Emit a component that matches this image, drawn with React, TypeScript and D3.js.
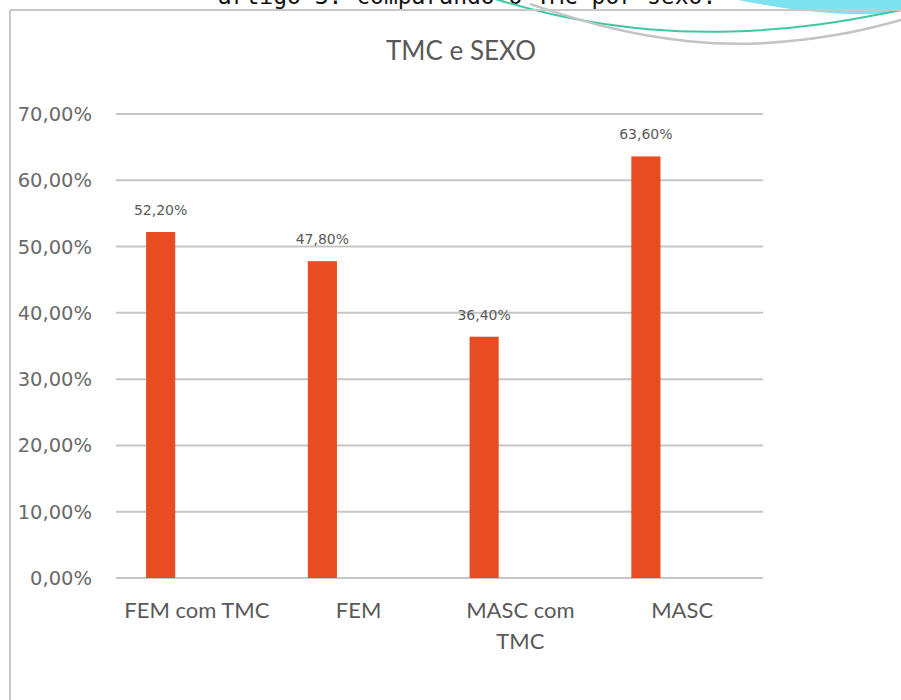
import React from "react";
import * as d3 from "d3";

const categories: string[][] = [["FEM com TMC"], ["FEM"], ["MASC com", "TMC"], ["MASC"]];
const values: number[] = [0.522, 0.478, 0.364, 0.636];
const yTicks: number[] = [0, 0.1, 0.2, 0.3, 0.4, 0.5, 0.6, 0.7];
const title = "TMC e SEXO";
const headerText = "artigo 3: comparando o TMC por sexo.";

const W = 901;
const H = 700;

const locale = d3.formatLocale({ decimal: ",", thousands: ".", grouping: [3], currency: ["R$", ""] });
const fmt = locale.format(".2%");

// decorative swoosh control points (top right)
const tealPts: [number, number][] = [[485, -4], [560, 18], [650, 31], [730, 33], [820, 26], [901, 10]];
const grayPts: [number, number][] = [[530, 4], [610, 30], [690, 43], [760, 45], [840, 36], [901, 20]];

export default function App() {
  const keys = categories.map((c) => c.join(" "));
  const x = d3.scaleBand<string>().domain(keys).range([116, 763]).paddingInner(0).paddingOuter(0);
  const y = d3.scaleLinear().domain([0, 0.7]).range([578, 114]);
  const bw = x.bandwidth();
  const barW = bw * 0.18;
  const barOff = bw * 0.186;
  const line = d3.line().curve(d3.curveBasis);
  const cyanArea =
    "M738,0 C770,6 800,12 850,14 C875,15 890,13 901,11 L901,0 Z";

  return (
    <svg
      width={W}
      height={H}
      style={{ position: "absolute", left: 0, top: 0, background: "#fff" }}
      fontFamily="Lato, sans-serif"
    >
      {/* header text, cut at top */}
      <text x={467} y={4} textAnchor="middle" fontFamily="'DejaVu Sans Mono', monospace" fontSize={23} fill="#111">
        {headerText}
      </text>
      {/* decorative swoosh */}
      <path d={cyanArea} fill="#7fe3ef" />
      <path d={line(tealPts) || ""} fill="none" stroke="#3cc9a4" strokeWidth={2} />
      <path d={line(grayPts) || ""} fill="none" stroke="#c4c4c4" strokeWidth={2.5} />
      {/* frame */}
      <line x1={10} y1={10} x2={W} y2={10} stroke="#c8c8c8" strokeWidth={2} />
      <line x1={10} y1={10} x2={10} y2={H} stroke="#c8c8c8" strokeWidth={2} />

      {/* title */}
      <text x={461} y={60} textAnchor="middle" fontSize={26} fill="#595959">
        {title}
      </text>

      {/* gridlines & y ticks */}
      {yTicks.map((t) => (
        <g key={t}>
          <line x1={116} x2={763} y1={y(t)} y2={y(t)} stroke="#c6c6c6" strokeWidth={2} />
          <text
            x={92}
            y={y(t)}
            dy="0.36em"
            textAnchor="end"
            fontFamily="'DejaVu Sans', sans-serif"
            fontSize={19.5}
            fill="#6a6a6a"
          >
            {fmt(t)}
          </text>
        </g>
      ))}

      {/* bars */}
      {keys.map((k, i) => (
        <g key={k}>
          <rect
            x={(x(k) || 0) + barOff}
            y={y(values[i])}
            width={barW}
            height={y(0) - y(values[i])}
            fill="#e84c22"
          />
          <text
            x={(x(k) || 0) + barOff + barW / 2}
            y={y(values[i]) - 17}
            textAnchor="middle"
            fontFamily="'DejaVu Sans', sans-serif"
            fontSize={14}
            fill="#595959"
          >
            {fmt(values[i])}
          </text>
        </g>
      ))}

      {/* category labels */}
      {categories.map((lines, i) => (
        <text
          key={i}
          x={(x(keys[i]) || 0) + bw / 2}
          y={618}
          textAnchor="middle"
          fontSize={22}
          fill="#595959"
        >
          {lines.map((l, j) => (
            <tspan key={j} x={(x(keys[i]) || 0) + bw / 2} dy={j === 0 ? 0 : 31}>
              {l}
            </tspan>
          ))}
        </text>
      ))}
    </svg>
  );
}
